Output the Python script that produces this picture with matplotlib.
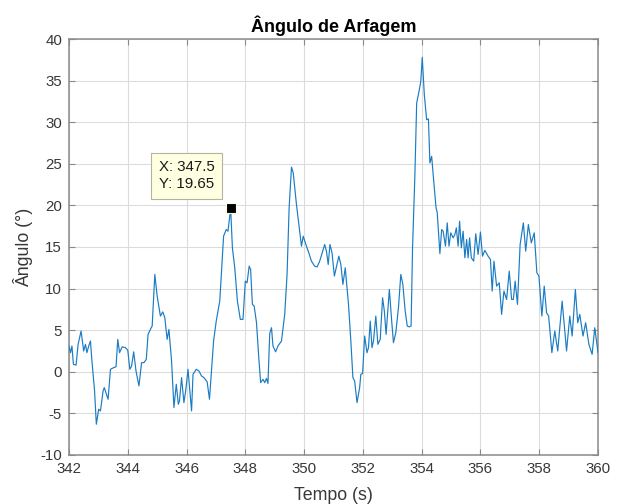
import matplotlib
matplotlib.use("Agg")
import matplotlib.pyplot as plt

plt.rcParams['font.family'] = ['Liberation Sans', 'DejaVu Sans']

title = "Ângulo de Arfagem"
xlabel = "Tempo (s)"
ylabel = "Ângulo (°)"

xticks = [342, 344, 346, 348, 350, 352, 354, 356, 358, 360]
yticks = [-10, -5, 0, 5, 10, 15, 20, 25, 30, 35, 40]

tempo = [342.0, 342.05, 342.1, 342.15, 342.24, 342.31, 342.41, 342.5, 342.56, 342.61,
         342.67, 342.73, 342.78, 342.87, 342.93, 343.01, 343.07, 343.16, 343.2, 343.33,
         343.41, 343.52, 343.6, 343.66, 343.72, 343.81, 343.92, 344.0, 344.07, 344.13,
         344.2, 344.28, 344.38, 344.47, 344.55, 344.63, 344.69, 344.77, 344.83, 344.92,
         345.0, 345.11, 345.19, 345.26, 345.34, 345.4, 345.49, 345.57, 345.65, 345.72,
         345.76, 345.83, 345.91, 345.97, 346.05, 346.17, 346.22, 346.33, 346.42, 346.51,
         346.59, 346.7, 346.78, 346.92, 347.01, 347.13, 347.26, 347.35, 347.41, 347.5,
         347.56, 347.64, 347.73, 347.83, 347.92, 348.0, 348.06, 348.13, 348.18, 348.24,
         348.3, 348.38, 348.45, 348.52, 348.6, 348.66, 348.72, 348.77, 348.83, 348.89,
         348.94, 349.03, 349.11, 349.23, 349.34, 349.42, 349.49, 349.57, 349.63, 349.74,
         349.85, 349.91, 349.97, 350.06, 350.14, 350.25, 350.36, 350.44, 350.53, 350.63,
         350.7, 350.76, 350.82, 350.88, 350.95, 351.03, 351.18, 351.25, 351.32, 351.4,
         351.51, 351.59, 351.66, 351.72, 351.8, 351.89, 351.93, 351.99, 352.06, 352.14,
         352.19, 352.25, 352.31, 352.36, 352.44, 352.51, 352.59, 352.67, 352.73, 352.79,
         352.9, 352.98, 353.04, 353.12, 353.21, 353.29, 353.36, 353.44, 353.51, 353.58,
         353.64, 353.69, 353.77, 353.83, 353.92, 353.97, 354.02, 354.09, 354.17, 354.23,
         354.28, 354.34, 354.42, 354.49, 354.53, 354.62, 354.68, 354.73, 354.81, 354.87,
         354.93, 354.99, 355.07, 355.13, 355.18, 355.24, 355.29, 355.35, 355.41, 355.47,
         355.53, 355.58, 355.63, 355.69, 355.77, 355.84, 355.92, 356.0, 356.07, 356.15,
         356.26, 356.34, 356.4, 356.46, 356.55, 356.64, 356.72, 356.8, 356.89, 356.98,
         357.06, 357.12, 357.18, 357.26, 357.35, 357.46, 357.54, 357.63, 357.73, 357.83,
         357.92, 357.99, 358.09, 358.17, 358.25, 358.32, 358.43, 358.53, 358.63, 358.78,
         358.93, 359.04, 359.12, 359.23, 359.31, 359.38, 359.49, 359.58, 359.69, 359.8,
         359.89, 359.95, 360.0]

angulo = [3.1, 2.3, 3.1, 0.9, 0.8, 3.3, 4.9, 2.5, 3.3, 2.3,
          3.1, 3.7, 1.3, -2.3, -6.3, -4.5, -4.7, -2.3, -1.9, -3.3,
          0.3, 0.5, 0.6, 3.9, 2.3, 3.0, 2.9, 2.6, 0.3, 0.7,
          2.4, 0.1, -1.7, 1.1, 1.1, 1.5, 4.5, 5.1, 5.5, 11.7,
          9.1, 6.7, 7.2, 6.5, 3.9, 5.1, 1.3, -4.3, -1.5, -3.9,
          -3.5, -0.7, -3.7, -2.3, 0.3, -4.7, -0.3, 0.3, 0.1, -0.5,
          -0.7, -1.2, -3.3, 3.7, 6.1, 8.5, 16.3, 17.1, 16.9, 19.65,
          14.9, 12.5, 8.5, 6.3, 6.3, 10.9, 10.7, 12.7, 12.3, 8.1,
          7.9, 5.9, 2.1, -1.3, -0.9, -1.3, -0.8, -1.4, 4.6, 5.3,
          3.1, 2.4, 3.1, 3.7, 6.9, 11.7, 19.7, 24.6, 23.9, 20.1,
          16.9, 15.1, 16.3, 15.3, 14.5, 13.3, 12.7, 12.6, 13.3, 14.5,
          15.3, 14.5, 12.9, 15.3, 14.3, 11.5, 13.9, 12.9, 10.5, 12.5,
          8.1, 3.7, -0.7, -1.1, -3.7, -1.9, -0.3, -0.2, 4.3, 2.3,
          2.9, 6.1, 2.9, 3.7, 6.7, 3.3, 3.9, 8.9, 7.3, 4.5,
          9.9, 6.1, 3.5, 4.7, 7.7, 11.7, 10.5, 7.3, 5.5, 5.4,
          5.5, 14.9, 23.7, 32.3, 33.9, 34.9, 37.8, 33.3, 30.3, 30.4,
          25.1, 25.9, 22.5, 19.7, 19.1, 14.2, 17.1, 16.9, 15.1, 17.9,
          15.1, 16.7, 16.1, 16.5, 17.3, 15.1, 18.1, 14.9, 16.9, 13.7,
          15.9, 13.7, 16.1, 13.7, 13.3, 16.6, 14.1, 16.8, 13.9, 14.6,
          13.9, 13.5, 9.7, 13.3, 10.3, 10.7, 6.9, 9.7, 8.7, 12.1,
          8.7, 8.7, 10.9, 8.1, 15.3, 17.9, 14.5, 17.7, 15.5, 16.7,
          11.9, 11.5, 6.7, 10.3, 7.1, 6.7, 2.3, 4.9, 2.5, 8.5,
          2.5, 6.7, 4.3, 9.9, 5.9, 6.9, 4.3, 5.9, 3.3, 2.1,
          5.3, 3.7, 2.3]

datatip_x = 347.5
datatip_y = 19.65

axis_gray = '#8a8a8a'
text_gray = '#383838'

fig = plt.figure(figsize=(6.18, 5.04), dpi=100)
ax = fig.add_axes([69 / 618, 49 / 504, 529 / 618, 416 / 504])

ax.plot(tempo, angulo, color='#1a7cc4', lw=0.85, zorder=3)

ax.set_xlim(xticks[0], xticks[-1])
ax.set_ylim(yticks[0], yticks[-1])
ax.set_xticks(xticks)
ax.set_yticks(yticks)
ax.set_xticklabels([str(t) for t in xticks])
ax.set_yticklabels([str(t) for t in yticks])

ax.grid(True, color='#dcdcdc', lw=0.8, zorder=0)
ax.set_axisbelow(True)
for s in ax.spines.values():
    s.set_color(axis_gray)
    s.set_linewidth(1.1)
ax.tick_params(direction='in', length=4, width=0.8, color=axis_gray,
               labelsize=10.8, labelcolor=text_gray, pad=5,
               top=True, right=True)

ax.set_title(title, fontsize=13, fontweight='bold', color='black', pad=5)
ax.set_xlabel(xlabel, fontsize=12.8, color=text_gray, labelpad=8)
ax.set_ylabel(ylabel, fontsize=12.8, color=text_gray, labelpad=5)

# datatip
ax.plot([datatip_x], [datatip_y], marker='s', color='black', markersize=7.6,
        mec='#fffde0', mew=0.8, zorder=5, clip_on=False)
ax.annotate(f"X: {datatip_x}\nY: {datatip_y}", xy=(datatip_x, datatip_y),
            xytext=(-72, 17), textcoords='offset pixels',
            ha='left', va='bottom', fontsize=10.8, color='#1a1a1a',
            linespacing=1.3,
            bbox=dict(boxstyle='square,pad=0.5', fc='#ffffe1', ec='#b4b4a0', lw=0.8),
            zorder=6)

fig.savefig('out.png', dpi=100)
